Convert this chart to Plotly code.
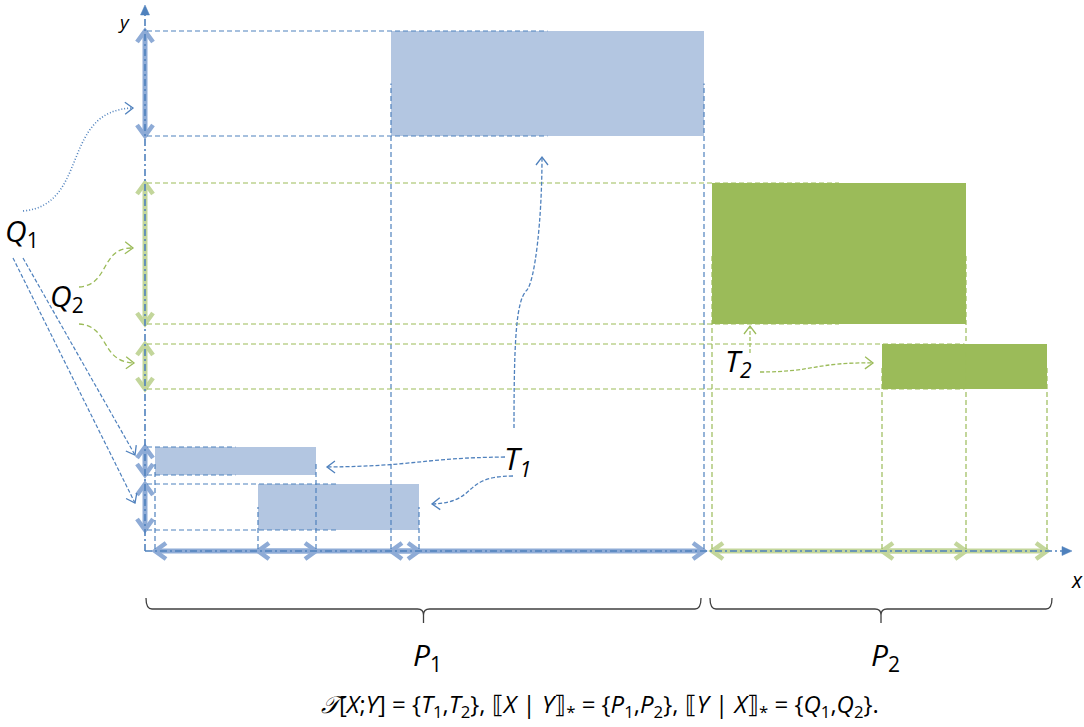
import math
import plotly.graph_objects as go

# ---------------- data (diagram units, origin at the axes crossing) ----------------
# T1 blocks (blue): x-interval and y-interval of each block
t1_x0 = [10, 113, 246]
t1_x1 = [171, 274, 559]
t1_y0 = [76, 21, 415]
t1_y1 = [104, 67, 520]
# T2 blocks (green)
t2_x0 = [567, 737]
t2_x1 = [821, 902]
t2_y0 = [227, 162]
t2_y1 = [368, 207]
# partition of X shown by the braces
part_names = ["1", "2"]
part_x0 = [1, 565]
part_x1 = [556, 907]
# extent of the drawn axes
axis_x_end = 927
axis_y_end = 546

# ---------------- styles ----------------
BLUE = "#4F81BD"
BLUE_FILL = "#B3C6E1"
BLUE_THICK = "#8EABD6"
GREEN = "#9BBB59"
GREEN_FILL = "#9BBB59"
GREEN_THICK = "#C3D69B"
FONT = "Open Sans"

shapes = []
annotations = []


def line(x0, y0, x1, y1, color, width, dash="solid"):
    shapes.append(dict(type="line", xref="x", yref="y", x0=x0, y0=y0, x1=x1, y1=y1,
                       line=dict(color=color, width=width, dash=dash)))


def path(d, color, width, dash="solid", fill=None):
    s = dict(type="path", xref="x", yref="y", path=d,
             line=dict(color=color, width=width, dash=dash))
    if fill:
        s["fillcolor"] = fill
    shapes.append(s)


def chevron(tx, ty, dx, dy, L, W, color, width, filled=False):
    n = math.hypot(dx, dy)
    ux, uy = dx / n, dy / n
    px, py = -uy, ux
    bx, by = tx - L * ux, ty - L * uy
    if filled:
        d = f"M {bx+W*px},{by+W*py} L {tx},{ty} L {bx-W*px},{by-W*py} Z"
        path(d, color, 0.5, fill=color)
    else:
        d = f"M {bx+W*px},{by+W*py} L {tx},{ty} L {bx-W*px},{by-W*py}"
        path(d, color, width)


def double_arrow(a, b, axis, color):
    if axis == "x":
        line(a, 0, b, 0, color, 5)
        chevron(a, 0, -1, 0, 11, 8, color, 4.5)
        chevron(b, 0, 1, 0, 11, 8, color, 4.5)
    else:
        line(0, a, 0, b, color, 5)
        chevron(0, a, 0, -1, 11, 8, color, 4.5)
        chevron(0, b, 0, 1, 11, 8, color, 4.5)


def curve(p0, c1, c2, p3, color, dash, width=1.3, arrow=True):
    path(f"M {p0[0]},{p0[1]} C {c1[0]},{c1[1]} {c2[0]},{c2[1]} {p3[0]},{p3[1]}",
         color, width, dash)
    if arrow:
        chevron(p3[0], p3[1], p3[0] - c2[0], p3[1] - c2[1], 8, 6, color, 1.3)


def label(x, y, text, size, color="black"):
    annotations.append(dict(x=x, y=y, xref="x", yref="y", text=text, showarrow=False,
                            font=dict(family=FONT, size=size, color=color),
                            xanchor="center", yanchor="middle"))


# ---------------- rectangles (traces) ----------------
fig = go.Figure()
groups = [
    (t1_x0, t1_x1, t1_y0, t1_y1, BLUE_FILL),
    (t2_x0, t2_x1, t2_y0, t2_y1, GREEN_FILL),
]
for gx0, gx1, gy0, gy1, fill in groups:
    for x0, x1, y0, y1 in zip(gx0, gx1, gy0, gy1):
        fig.add_trace(go.Scatter(x=[x0, x1, x1, x0, x0], y=[y0, y0, y1, y1, y0],
                                 mode="lines", fill="toself", fillcolor=fill,
                                 line=dict(width=0, color=fill), hoverinfo="skip"))

# ---------------- thick projection arrows ----------------
for gx0, gx1, gy0, gy1, col in [(t1_x0, t1_x1, t1_y0, t1_y1, BLUE_THICK),
                                (t2_x0, t2_x1, t2_y0, t2_y1, GREEN_THICK)]:
    for x0, x1 in zip(gx0, gx1):
        double_arrow(x0, x1, "x", col)
    for y0, y1 in zip(gy0, gy1):
        double_arrow(y0, y1, "y", col)

# ---------------- axes (dash-dot with arrowheads) ----------------
line(0, 0, axis_x_end - 6, 0, BLUE, 1.6, "7px,3px,2px,3px")
line(0, 0, 0, axis_y_end - 6, BLUE, 1.6, "7px,3px,2px,3px")
chevron(axis_x_end, 0, 1, 0, 10, 4.5, BLUE, 1, filled=True)
chevron(0, axis_y_end, 0, 1, 10, 4.5, BLUE, 1, filled=True)

# ---------------- guide lines ----------------
for gx0, gx1, gy0, gy1, col in [(t1_x0, t1_x1, t1_y0, t1_y1, BLUE),
                                (t2_x0, t2_x1, t2_y0, t2_y1, GREEN)]:
    for x0, x1, y0, y1 in zip(gx0, gx1, gy0, gy1):
        xm = (x0 + x1) / 2
        ym = (y0 + y1) / 2
        for yy in (y0, y1):
            line(2, yy, xm, yy, col, 1.2, "5px,3px")
        for xx in (x0, x1):
            line(xx, 2, xx, ym, col, 1.2, "5px,3px")

# ---------------- connectors ----------------
# Q1
curve((-122, 340), (-55, 346), (-85, 441), (-12, 443), BLUE, "1px,2px", 1.6)
line(-132, 293, -10, 48, BLUE, 1.2, "4px,2px")
chevron(-10, 48, 122, -245, 8, 6, BLUE, 1.3)
line(-122, 293, -10, 96, BLUE, 1.2, "4px,2px")
chevron(-10, 96, 112, -197, 8, 6, BLUE, 1.3)
# Q2
curve((-66, 264), (-35, 266), (-45, 304), (-12, 303), GREEN, "5px,3px")
curve((-66, 227), (-35, 225), (-45, 189), (-11, 188), GREEN, "5px,3px")
# T1
curve((360, 94), (275, 93), (275, 85), (182, 84), BLUE, "4px,2px")
curve((368, 75), (315, 75), (335, 49), (287, 47), BLUE, "4px,2px")
path("M 369,123 C 369,211 371,251 382,261 C 390,271 397,331 397,394", BLUE, 1.3, "4px,2px")
chevron(397, 394, 0, 1, 8, 6, BLUE, 1.3)
# T2
curve((615, 179), (670, 179), (670, 189), (728, 188), GREEN, "4px,2px")
line(605, 198, 605, 225, GREEN, 1.2, "4px,2px")
chevron(605, 225, 0, 1, 8, 6, GREEN, 1.3)

# ---------------- braces ----------------
yt, yl, ytip, r = -47, -58, -72, 6
for a, b in zip(part_x0, part_x1):
    m = (a + b) / 2
    d = (f"M {a},{yt} Q {a},{yl} {a+r},{yl} L {m-r},{yl} Q {m},{yl} {m},{yl-r} L {m},{ytip} "
         f"M {m},{yl-r} Q {m},{yl} {m+r},{yl} L {b-r},{yl} Q {b},{yl} {b},{yt}")
    path(d, "#404040", 1.3)

# ---------------- labels ----------------
label(-123, 319, "<i>Q</i><sub>1</sub>", 30)
label(-78, 254, "<i>Q</i><sub>2</sub>", 30)
label(372, 91, "<i>T</i><sub><i>1</i></sub>", 31)
label(593, 189, "<i>T</i><sub><i>2</i></sub>", 30)
for a, b, nm in zip(part_x0, part_x1, part_names):
    label((a + b) / 2 + 4, -105, f"<i>P</i><sub>{nm}</sub>", 30)
label(-21, 529, "<i>y</i>", 19)
label(932, -29, "<i>x</i>", 21)
label(455, -154,
      "<i>\U0001D4AF</i>[<i>X</i>;<i>Y</i>] = {<i>T</i><sub>1</sub>,<i>T</i><sub>2</sub>}, "
      "⟦<i>X</i> | <i>Y</i>⟧<sub>*</sub> = {<i>P</i><sub>1</sub>,<i>P</i><sub>2</sub>}, "
      "⟦<i>Y</i> | <i>X</i>⟧<sub>*</sub> = {<i>Q</i><sub>1</sub>,<i>Q</i><sub>2</sub>}.", 24)

fig.update_layout(
    width=1084, height=727, autosize=False,
    margin=dict(l=0, r=0, t=0, b=0, pad=0),
    paper_bgcolor="white", plot_bgcolor="white",
    showlegend=False,
    xaxis=dict(range=[-145, 939], visible=False, fixedrange=True),
    yaxis=dict(range=[-176, 551], visible=False, fixedrange=True),
    shapes=shapes, annotations=annotations,
)
fig.write_html("out.html", config={"displayModeBar": False},
               post_script="document.body.style.margin='0';document.body.style.overflow='hidden';")
